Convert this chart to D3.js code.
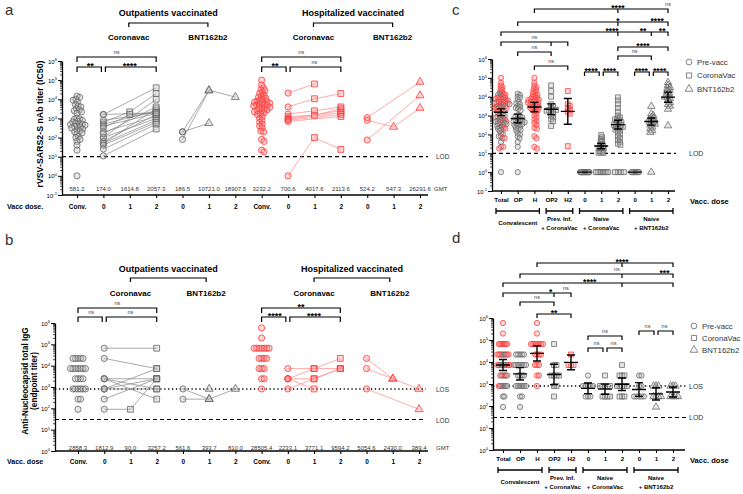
<!DOCTYPE html>
<html><head><meta charset="utf-8">
<script src="https://cdn.jsdelivr.net/npm/d3@7"></script>
<style>
body{margin:0;background:#fff}
svg{display:block}
svg text{font-family:"Liberation Sans",Arial,sans-serif}
</style>
</head><body>
<svg id="chart" width="743" height="494"></svg>
<script>
// ================= DATA =================
// Panels a/b categories (outpatients then hospitalized)
const catsAB = ["oConv","oCV0","oCV1","oCV2","oBN0","oBN1","oBN2","hConv","hCV0","hCV1","hCV2","hBN0","hBN1","hBN2"];
const doseLabelsAB = ["Conv.","0","1","2","0","1","2","Conv.","0","1","2","0","1","2"];
const gmtLabelsA = ["581.2","174.0","1614.8","2057.3","186.5","10721.0","18907.5","3232.2","700.6","4017.6","2113.6","524.2","547.3","26291.6"];
const gmtLabelsB = ["2858.3","1812.9","90.0","3257.2","561.6","393.7","810.0","28505.4","2233.1","3771.1","9594.2","5054.6","2430.0","389.4"];

// Panel a: rVSV-SARS2-S nAb titer (IC50)
const nabOutConv = [14500,12600,10000,8900,7100,5250,4470,3980,3160,2820,2510,2240,1900,1050,955,890,795,710,630,560,525,500,480,447,398,380,355,316,282,251,224,200,178,158,112,100,79,63,40,22,1];
const nabHospConv = [100000,56000,40000,32000,28000,22400,20000,16000,14000,12600,11200,10000,8900,7900,7600,7100,6600,6300,5600,5200,5000,4800,4500,4000,3800,3500,3200,2800,2600,2500,2200,2000,1800,1600,1260,1000,790,630,500,400,320,220,200,80,63,22,18];
// paired subjects: [dose 0, dose 1, dose 2]; null = not sampled
const nabOutCV = [[1600,null,40000],[1600,null,2000],[630,2200,20000],[500,null,2500],[400,null,1800],[320,1600,2000],[200,null,1260],[100,null,10000],[100,null,1000],[63,null,1600],[50,null,800],[50,null,3200],[40,null,630],[25,null,500],[11,null,280],[160,null,4000],[800,null,2000]];
const nabOutBNT = [[200,30000,13000],[200,560,null],[80,28000,null]];
const nabHospCV = [[21000,63000,null],[4000,10700,20000],[1700,2500,4000],[1260,1450,3200],[1000,null,2500],[900,null,2000],[800,null,1600],[700,null,1260],[1,100,24]];
const nabHospBNT = [[1100,null,80000],[800,360,3500],[75,null,15800]];

// Panel b: anti-nucleocapsid total IgG (endpoint titer)
const igOutConv = [21870,21870,21870,21870,21870,7290,7290,7290,7290,7290,7290,7290,2430,2430,2430,2430,810,810,810,810,810,810,270,270,90];
const igHospConv = [590490,196830,65610,65610,65610,65610,65610,65610,65610,21870,21870,21870,21870,7290,7290,7290,2430,2430,810];
const igOutCV = [[65610,null,65610],[21870,null,7290],[2430,null,2430],[2430,null,810],[2430,null,270],[810,null,7290],[810,null,2430],[270,null,2430],[90,90,2430],[810,null,810]];
const igOutBNT = [[810,270,810],[270,270,null],[null,810,null]];
const igHospCV = [[7290,7290,21870],[2430,7290,7290],[2430,2430,7290],[810,2430,7290],[2430,810,null]];
const igHospBNT = [[21870,2430,810],[7290,2430,null],[810,null,90]];

// Panels c/d categories
const catsCD = ["Total","OP","H","OP2","H2","N0","N1","N2","B0","B1","B2"];
const tickLabelsCD = ["Total","OP","H","OP2","H2","0","1","2","0","1","2"];
const groupNames = [["Convalescent"],["Prev. Inf.","+ CoronaVac"],["Naive","+ CoronaVac"],["Naive","+ BNT162b2"]];
const groupSpans = [["Total","H"],["OP2","H2"],["N0","N2"],["B0","B2"]];
const legendNames = ["Pre-vacc","CoronaVac","BNT162b2"];

// Panel c: naive groups (nAb IC50); 1 = below LOD
const nabNaiveCV0 = [1,1,1,1,1,1,1,1,1,1,1,1,1,1,1,1,1,1,1,1];
const nabNaiveCV1 = [93,71,56,45,40,32,28,25,22,20,19,18,16,14,12.6,11.2,10.5,10.5,1,1,1,1,1,1,1,1];
const nabNaiveCV2 = [9300,6300,4000,2500,1600,1000,800,710,630,560,500,450,400,355,320,320,280,250,250,220,200,180,160,126,100,80,63,50,40,32,28,1,1,1,1];
const nabNaiveBNT0 = [1,1,1,1,1,1,1,1];
const nabNaiveBNT1 = [3100,1260,1000,800,710,630,560,500,450,400,355,320,250,200,160,130,1];
const nabNaiveBNT2 = [57500,40000,31600,28000,22400,20000,15800,12600,11200,10000,8900,7900,6300,5000,4000,3200,2200,290];

// Panel d: naive groups (anti-N IgG)
const igNaiveCV0 = [2430,810,810,810,810,810,270,270,270];
const igNaiveCV1 = [2430,810,810,810,810,810,270,270,270,270];
const igNaiveCV2 = [7290,2430,2430,2430,810,810,810,810,810,270,270,270];
const igNaiveBNT0 = [2430,2430,810,810,270,270,270,270,270];
const igNaiveBNT1 = [810,810,810,270,270,270,270,90];
const igNaiveBNT2 = [810,810,810,270,270,270,270];

// thresholds
const LOD_NAB = 10, LOS_IG = 810, LOD_IG = 30;

// ================= DRAWING =================
const svg = d3.select("#chart");
const GRAY_S="#676767", GRAY_F="rgba(185,185,185,0.35)";
const RED_S="#ff3838", RED_F="rgba(255,130,130,0.3)";
const SHAPES={c:d3.symbolCircle,s:d3.symbolSquare,t:d3.symbolTriangle};

function txt(g,x,y,s,o={}){
  return g.append("text").attr("x",x).attr("y",y).text(s)
    .attr("font-size",o.size||7).attr("font-weight",o.bold?"bold":"normal")
    .attr("fill",o.fill||"#000").attr("text-anchor",o.anchor||"middle");
}
function mark(g,x,y,shape,col,size,sw){
  g.append("path").attr("d",d3.symbol().type(SHAPES[shape]).size(size)())
    .attr("transform",`translate(${x},${y})`)
    .attr("fill",col==="red"?RED_F:GRAY_F).attr("stroke",col==="red"?RED_S:GRAY_S)
    .attr("stroke-width",sw||0.8);
}
function yAxis(g,x0,y,exps,fs){
  const ax=d3.axisLeft(y).tickValues(exps.map(e=>Math.pow(10,e))).tickSize(4).tickSizeOuter(0).tickFormat("");
  const ga=g.append("g").attr("transform",`translate(${x0},0)`).call(ax);
  ga.select(".domain").attr("stroke-width",1.3);
  ga.selectAll(".tick text").remove();
  ga.selectAll(".tick").each(function(d){
    const e=Math.round(Math.log10(d));
    const t=d3.select(this).append("text").attr("x",-5).attr("y",2).attr("text-anchor","end")
      .attr("font-size",fs).attr("fill","#000");
    t.append("tspan").text("10");
    t.append("tspan").text(e).attr("font-size",fs*0.7).attr("dy",-fs*0.4);
  });
  const minors=[];
  exps.slice(0,-1).forEach(e=>{for(let m=2;m<10;m++)minors.push(m*Math.pow(10,e));});
  const am=d3.axisLeft(y).tickValues(minors).tickSize(2).tickSizeOuter(0).tickFormat("");
  const gm=g.append("g").attr("transform",`translate(${x0},0)`).call(am);
  gm.select(".domain").remove();
  gm.selectAll(".tick line").attr("stroke-width",0.7);
}
function xAxis(g,x,y0,xs,xe,labels,fs,pad){
  g.append("line").attr("x1",xs).attr("x2",xe).attr("y1",y0).attr("y2",y0).attr("stroke","#000").attr("stroke-width",1.3);
  const ax=d3.axisBottom(x).tickSize(3).tickSizeOuter(0).tickPadding(pad).tickFormat((d,i)=>labels[i]);
  const ga=g.append("g").attr("transform",`translate(0,${y0})`).call(ax);
  ga.select(".domain").remove();
  ga.selectAll(".tick line").attr("stroke-width",1.1);
  ga.selectAll(".tick text").attr("font-size",fs).attr("font-weight","bold").attr("fill","#000");
}
function hline(g,x1,x2,y,kind){
  g.append("line").attr("x1",x1).attr("x2",x2).attr("y1",y).attr("y2",y)
   .attr("stroke","#000").attr("stroke-width",kind==="dot"?1.4:1.2)
   .attr("stroke-dasharray",kind==="dot"?"1.3,2.6":"4,3");
}
// deterministic dodge layout, then compressed into +-maxW
function swarm(items,cx,y,minD,step,maxW){
  const arr=items.map(it=>Object.assign({},it,{py:y(it.v)})).sort((a,b)=>a.py-b.py);
  const placed=[];
  arr.forEach(p=>{
    let dx=0;
    for(let k=0;k<400;k++){
      dx=k===0?0:(k%2?1:-1)*Math.ceil(k/2)*step;
      const px=cx+dx;
      if(placed.every(q=>(q.px-px)**2+(q.py-p.py)**2>=minD*minD))break;
    }
    p.px=cx+dx;placed.push(p);
  });
  const m=d3.max(arr,p=>Math.abs(p.px-cx))||0;
  if(maxW&&m>maxW) arr.forEach(p=>{p.px=cx+(p.px-cx)*maxW/m;});
  return arr;
}
function paired(gl,gm,x,y,subjects,ids,shapes,col,size){
  subjects.forEach(s=>{
    const pts=s.map((v,i)=>v==null?null:[x(ids[i]),y(v)]).filter(Boolean);
    if(pts.length>1) gl.append("path").attr("d",d3.line()(pts)).attr("fill","none")
      .attr("stroke",col==="red"?"#ff8f8f":"#8c8c8c").attr("stroke-width",0.75);
  });
  subjects.forEach(s=>s.forEach((v,i)=>{ if(v!=null) mark(gm,x(ids[i]),y(v),shapes[i],col,size[shapes[i]]); }));
}
function xAt(x,f){return x.range()[0]+f*x.step();}
function bracket(g,xs,yl,tick){
  let d=`M${xs[0]},${yl+tick}V${yl}H${xs[xs.length-1]}V${yl+tick}`;
  for(let i=1;i<xs.length-1;i++)d+=`M${xs[i]},${yl}V${yl+tick}`;
  g.append("path").attr("d",d).attr("fill","none").attr("stroke","#000").attr("stroke-width",1.2);
}
function sig(g,x,yl,s,big){
  if(s==="ns") txt(g,x,yl-3.5,"ns",{size:5.5,fill:"#444"});
  else txt(g,x,yl+1.5,s,{size:big||9,bold:true});
}
function drawSig(g,x,list,rowY,tick,big){
  list.forEach(b=>{
    let xs=b.t.map(t=>typeof t==="number"?xAt(x,t):x(t));
    if(b.gap==="R")xs[xs.length-1]-=2;
    if(b.gap==="L")xs[0]+=2;
    bracket(g,xs,rowY[b.r],tick);
    b.l.forEach(([s,f])=>sig(g,xAt(x,f),rowY[b.r],s,big));
  });
}
function gmCI(vals){
  const L=vals.filter(v=>v>1).map(v=>Math.log10(v));
  if(!L.length)return {m:0,lo:0,hi:0};
  const m=d3.mean(L);
  if(L.length<2)return {m,lo:m,hi:m};
  const n=L.length,t=1.96+2.5/(n-1),h=t*d3.deviation(L)/Math.sqrt(n);
  return {m,lo:m-h,hi:m+h};
}
function errBar(g,cx,y,s){
  const p=v=>y(Math.pow(10,v));
  g.append("path").attr("d",`M${cx-7},${p(s.m)}H${cx+7}M${cx},${p(s.lo)}V${p(s.hi)}M${cx-4},${p(s.lo)}H${cx+4}M${cx-4},${p(s.hi)}H${cx+4}`)
   .attr("fill","none").attr("stroke","#000").attr("stroke-width",1.4);
}

// ---------------- Panel a ----------------
const yA=d3.scaleLog().domain([0.1,1e6]).range([195,61]);
const xA=d3.scalePoint().domain(catsAB).range([77,420]);
const SZ_AB={c:30,s:34,t:28};
{
  const g=svg.append("g");
  txt(g,5,15,"a",{size:15,anchor:"start",fill:"#333"});
  yAxis(g,62,yA,[-1,0,1,2,3,4,5,6],6);
  xAxis(g,xA,195,62,428,doseLabelsAB,6.5,6);
  txt(g,7,209,"Vacc dose.",{size:7,bold:true,anchor:"start"});
  g.append("text").attr("transform","translate(43,124) rotate(-90)").attr("text-anchor","middle")
   .attr("font-size",8.8).attr("font-weight","bold").text("rVSV-SARS2-S nAb titer (IC50)");
  hline(g,62,428,yA(LOD_NAB),"dash");
  txt(g,436,159,"LOD",{size:6.5,anchor:"start",fill:"#333"});
  txt(g,434,190.5,"GMT",{size:6,anchor:"start",fill:"#333"});
  catsAB.forEach((c,i)=>txt(g,xA(c),190.5,gmtLabelsA[i],{size:6,fill:"#333"}));
  // headers
  [["oCV1","oBN1","Outpatients vaccinated"],["hCV1","hBN1","Hospitalized vaccinated"]].forEach(([c1,c2,t])=>{
    const x1=xA(c1)-1,x2=xA(c2)-1;
    txt(g,(x1+x2)/2,16,t,{size:9,bold:true});
    bracket(g,[x1,x2],23,4);
    txt(g,x1,40,"Coronavac",{size:8,bold:true});
    txt(g,x2,40,"BNT162b2",{size:8,bold:true});
  });
  drawSig(g,xA,[
    {t:["oConv","oCV2"],r:0,l:[["ns",1.5]]},
    {t:["oConv","oCV0"],r:1,l:[["**",0.5]],gap:"R"},
    {t:["oCV0","oCV2"],r:1,l:[["****",2]],gap:"L"},
    {t:["hConv","hCV2"],r:0,l:[["ns",8.5]]},
    {t:["hConv","hCV0"],r:1,l:[["**",7.5]],gap:"R"},
    {t:["hCV0","hCV2"],r:1,l:[["ns",9]],gap:"L"}],[57,67],5);
  const gl=g.append("g"),gm=g.append("g");
  swarm(nabOutConv.map(v=>({v})),xA("oConv"),yA,3.4,0.5,8).forEach(p=>mark(gm,p.px,p.py,"c","gray",SZ_AB.c));
  swarm(nabHospConv.map(v=>({v})),xA("hConv"),yA,3.4,0.5,8).forEach(p=>mark(gm,p.px,p.py,"c","red",SZ_AB.c));
  paired(gl,gm,xA,yA,nabOutCV,["oCV0","oCV1","oCV2"],["c","s","s"],"gray",SZ_AB);
  paired(gl,gm,xA,yA,nabOutBNT,["oBN0","oBN1","oBN2"],["c","t","t"],"gray",SZ_AB);
  paired(gl,gm,xA,yA,nabHospCV,["hCV0","hCV1","hCV2"],["c","s","s"],"red",SZ_AB);
  paired(gl,gm,xA,yA,nabHospBNT,["hBN0","hBN1","hBN2"],["c","t","t"],"red",SZ_AB);
}

// ---------------- Panel b ----------------
const yB=d3.scaleLog().domain([1,1e6]).range([451,323]);
const xB=d3.scalePoint().domain(catsAB).range([78,419]);
{
  const g=svg.append("g");
  txt(g,5,245,"b",{size:15,anchor:"start",fill:"#333"});
  yAxis(g,55,yB,[0,1,2,3,4,5,6],6);
  xAxis(g,xB,451,55,428,doseLabelsAB,6.5,5);
  txt(g,7,464,"Vacc. dose",{size:7,bold:true,anchor:"start"});
  const tl=g.append("text").attr("transform","translate(0,381) rotate(-90)").attr("text-anchor","middle")
   .attr("font-size",8.2).attr("font-weight","bold");
  tl.append("tspan").attr("x",0).attr("y",28).text("Anti-Nucleocapsid total IgG");
  tl.append("tspan").attr("x",0).attr("y",37).text("(endpoint titer)");
  hline(g,55,426,yB(LOS_IG),"dot");
  hline(g,55,426,yB(LOD_IG),"dash");
  txt(g,436,391.5,"LOS",{size:6.5,anchor:"start",fill:"#333"});
  txt(g,436,422.5,"LOD",{size:6.5,anchor:"start",fill:"#333"});
  txt(g,436,449.5,"GMT",{size:6,anchor:"start",fill:"#333"});
  catsAB.forEach((c,i)=>txt(g,xB(c),449.5,gmtLabelsB[i],{size:6,fill:"#333"}));
  [["oCV1","oBN1","Outpatients vaccinated"],["hCV1","hBN1","Hospitalized vaccinated"]].forEach(([c1,c2,t])=>{
    const x1=xB(c1),x2=xB(c2)-3;
    txt(g,(x1+x2)/2,272,t,{size:9,bold:true});
    bracket(g,[x1,x2],278,4);
    txt(g,x1,296,"Coronavac",{size:8,bold:true});
    txt(g,x2,296,"BNT162b2",{size:8,bold:true});
  });
  drawSig(g,xB,[
    {t:["oConv","oCV2"],r:0,l:[["ns",1.5]]},
    {t:["oConv","oCV0"],r:1,l:[["ns",0.5]],gap:"R"},
    {t:["oCV0","oCV2"],r:1,l:[["ns",2]],gap:"L"},
    {t:["hConv","hCV2"],r:0,l:[["**",8.5]]},
    {t:["hConv","hCV0"],r:1,l:[["****",7.5]],gap:"R"},
    {t:["hCV0","hCV2"],r:1,l:[["****",9]],gap:"L"}],[308,317],5);
  const gl=g.append("g"),gm=g.append("g");
  swarm(igOutConv.map(v=>({v})),xB("oConv"),yB,2.2,0.5,7.5).forEach(p=>mark(gm,p.px,p.py,"c","gray",SZ_AB.c));
  swarm(igHospConv.map(v=>({v})),xB("hConv"),yB,2.2,0.5,7.5).forEach(p=>mark(gm,p.px,p.py,"c","red",SZ_AB.c));
  paired(gl,gm,xB,yB,igOutCV,["oCV0","oCV1","oCV2"],["c","s","s"],"gray",SZ_AB);
  paired(gl,gm,xB,yB,igOutBNT,["oBN0","oBN1","oBN2"],["c","t","t"],"gray",SZ_AB);
  paired(gl,gm,xB,yB,igHospCV,["hCV0","hCV1","hCV2"],["c","s","s"],"red",SZ_AB);
  paired(gl,gm,xB,yB,igHospBNT,["hBN0","hBN1","hBN2"],["c","t","t"],"red",SZ_AB);
}

// ---------------- Panels c & d ----------------
const SZ_CD={c:22,s:24,t:24};
function summaryPanel(o){
  const g=svg.append("g"), x=o.x, y=o.y;
  txt(g,o.letter[1],o.letter[2],o.letter[0],{size:15,anchor:"start",fill:"#333"});
  yAxis(g,o.ax,y,o.exps,5.8);
  xAxis(g,x,o.base,o.ax,o.xend,tickLabelsCD,6.2,4);
  txt(g,690,o.base+13,"Vacc. dose",{size:7.5,bold:true,anchor:"start"});
  groupSpans.forEach(([a,b],i)=>{
    const x1=x(a)-5,x2=x(b)+5,yy=o.base+20;
    g.append("path").attr("d",`M${x1},${yy-3}V${yy+3}M${x1},${yy}H${x2}M${x2},${yy-3}V${yy+3}`)
     .attr("fill","none").attr("stroke","#000").attr("stroke-width",1.3);
    const nm=groupNames[i];
    if(nm.length===1) txt(g,(x1+x2)/2,yy+14,nm[0],{size:6,bold:true});
    else {txt(g,(x1+x2)/2,yy+10,nm[0],{size:6,bold:true});txt(g,(x1+x2)/2,yy+19,nm[1],{size:6,bold:true});}
  });
  o.refs.forEach(([v,kind,lab])=>{hline(g,o.ax,o.xend+1,y(v),kind);txt(g,689,y(v)+2.5,lab,{size:7,anchor:"start",fill:"#333"});});
  legendNames.forEach((n,i)=>{
    const ly=o.leg[1]+i*o.leg[2];
    g.append("path").attr("d",d3.symbol().type(SHAPES["cst"[i]]).size(26)()).attr("transform",`translate(${o.leg[0]},${ly})`)
     .attr("fill","none").attr("stroke","#666").attr("stroke-width",0.8);
    txt(g,o.leg[0]+8,ly+2.8,n,{size:7.8,anchor:"start",fill:"#333"});
  });
  drawSig(g,x,o.sig,o.rowY,4,8.5);
  const gm=g.append("g"),ge=g.append("g");
  o.groups.forEach(gr=>{
    const cx=x(gr.cat);
    swarm(gr.items,cx,y,o.minD,0.5,gr.w||o.maxW).forEach(p=>mark(gm,p.px,p.py,p.sh,p.col,SZ_CD[p.sh],0.75));
    errBar(ge,cx,y,gmCI(gr.items.map(d=>d.v)));
  });
}
const it=(arr,col,sh)=>arr.map(v=>({v,col,sh}));

summaryPanel({
  letter:["c",452,15], x:d3.scalePoint().domain(catsCD).range([501,668]),
  y:d3.scaleLog().domain([0.1,1e6]).range([191,59]), exps:[-1,0,1,2,3,4,5,6],
  ax:492, xend:675, base:191, minD:2.6, maxW:7,
  refs:[[LOD_NAB,"dash","LOD"]], leg:[689,62,13.5],
  rowY:[9,22,32,42,47,52,56,66,72],
  sig:[
    {t:[2,7,10],r:0,l:[["****",7],["ns",10]]},
    {t:[1,7,10],r:1,l:[["*",7],["****",9.35]]},
    {t:[0,7,9,10],r:2,l:[["****",6.65],["**",8.5],["**",9.65]]},
    {t:[0,3,4],r:3,l:[["ns",2]]},
    {t:[7,10],r:4,l:[["****",8.5]]},
    {t:[1,3],r:5,l:[["ns",2]]},
    {t:[7,9],r:6,l:[["ns",8]]},
    {t:[2,4],r:7,l:[["ns",3]]},
    {t:[5,6],r:8,l:[["****",5.4]],gap:"R"},
    {t:[6,7],r:8,l:[["****",6.5]],gap:"L"},
    {t:[8,9],r:8,l:[["****",8.4]],gap:"R"},
    {t:[9,10],r:8,l:[["****",9.5]],gap:"L"}],
  groups:[
    {cat:"Total",w:8.5,items:it(nabOutConv,"gray","c").concat(it(nabHospConv,"red","c"))},
    {cat:"OP",items:it(nabOutConv,"gray","c")},
    {cat:"H",items:it(nabHospConv,"red","c")},
    {cat:"OP2",items:it(nabOutCV.map(s=>s[2]),"gray","s")},
    {cat:"H2",items:it(nabHospCV.map(s=>s[2]).filter(v=>v!=null),"red","s")},
    {cat:"N0",w:5,items:it(nabNaiveCV0,"gray","c")},
    {cat:"N1",items:it(nabNaiveCV1,"gray","s")},
    {cat:"N2",items:it(nabNaiveCV2,"gray","s")},
    {cat:"B0",w:4.5,items:it(nabNaiveBNT0,"gray","c")},
    {cat:"B1",items:it(nabNaiveBNT1,"gray","t")},
    {cat:"B2",items:it(nabNaiveBNT2,"gray","t")}]
});

summaryPanel({
  letter:["d",452,243], x:d3.scalePoint().domain(catsCD).range([503,673]),
  y:d3.scaleLog().domain([1,1e6]).range([450,318]), exps:[0,1,2,3,4,5,6],
  ax:493, xend:685, base:450, minD:2.2, maxW:6,
  refs:[[LOS_IG,"dot","LOS"],[LOD_IG,"dash","LOD"]], leg:[694,326,12],
  rowY:[263,274,283,293,302,314,336,348,331],
  sig:[
    {t:[2,7,10],r:0,l:[["****",7]]},
    {t:[1,7,10],r:1,l:[["ns",6.7],["***",9.5]]},
    {t:[0,7,10],r:2,l:[["****",5.1]]},
    {t:[0,3,4],r:3,l:[["*",2.8],["ns",3.7]]},
    {t:[1,3],r:4,l:[["ns",2]]},
    {t:[2,4],r:5,l:[["**",3]]},
    {t:[5,7],r:6,l:[["ns",6]]},
    {t:[5,6],r:7,l:[["ns",5.5]],gap:"R"},
    {t:[6,7],r:7,l:[["ns",6.5]],gap:"L"},
    {t:[8,9],r:8,l:[["ns",8.5]],gap:"R"},
    {t:[9,10],r:8,l:[["ns",9.5]],gap:"L"}],
  groups:[
    {cat:"Total",w:7,items:it(igOutConv,"gray","c").concat(it(igHospConv,"red","c"))},
    {cat:"OP",items:it(igOutConv,"gray","c")},
    {cat:"H",items:it(igHospConv,"red","c")},
    {cat:"OP2",items:it(igOutCV.map(s=>s[2]),"gray","s")},
    {cat:"H2",items:it(igHospCV.map(s=>s[2]).filter(v=>v!=null),"red","s")},
    {cat:"N0",items:it(igNaiveCV0,"gray","c")},
    {cat:"N1",items:it(igNaiveCV1,"gray","s")},
    {cat:"N2",items:it(igNaiveCV2,"gray","s")},
    {cat:"B0",items:it(igNaiveBNT0,"gray","c")},
    {cat:"B1",items:it(igNaiveBNT1,"gray","t")},
    {cat:"B2",items:it(igNaiveBNT2,"gray","t")}]
});
</script>
</body></html>
